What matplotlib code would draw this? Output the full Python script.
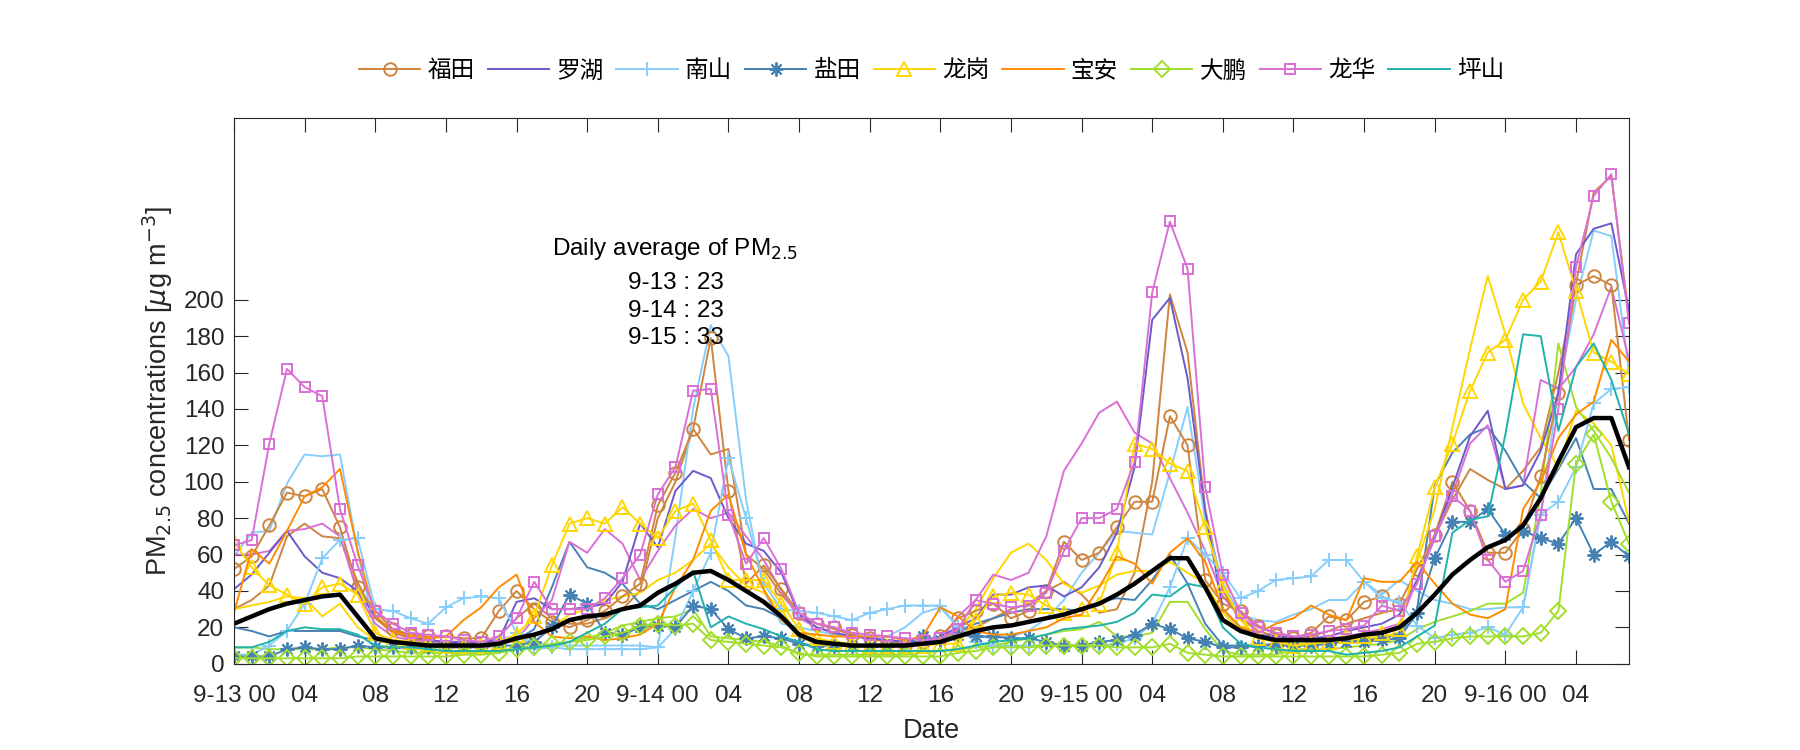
import matplotlib
matplotlib.use("Agg")
import matplotlib.pyplot as plt
import numpy as np

plt.rcParams['font.family'] = ['Liberation Sans', 'Noto Sans CJK SC', 'DejaVu Sans']
plt.rcParams['mathtext.fontset'] = 'dejavusans'

hours = np.arange(80)

# hourly PM2.5, 9-13 00 .. 9-16 07
futian = [52, 59, 76, 94, 92, 96, 75, 42, 29, 19,
          16, 15, 15, 14, 14, 29, 40, 30, 23, 20,
          24, 29, 37, 44, 87, 105, 129, 179, 95, 44,
          54, 41, 28, 22, 20, 16, 14, 12, 10, 12,
          15, 25, 29, 33, 25, 29, 40, 67, 57, 61,
          75, 89, 89, 136, 120, 46, 33, 29, 21, 16,
          14, 17, 26, 24, 34, 37, 33, 52, 71, 100,
          84, 61, 61, 74, 103, 149, 208, 213, 208, 123]
futian_2 = [30, 35, 43, 70, 77, 70, 69, 45, 25, 17,
            14, 13, 12, 12, 12, 15, 25, 33, 25, 22,
            22, 25, 30, 40, 80, 100, 129, 115, 118, 60,
            52, 38, 27, 22, 19, 16, 14, 12, 11, 12,
            15, 18, 20, 25, 30, 33, 40, 45, 38, 28,
            30, 50, 100, 203, 171, 85, 40, 25, 18, 15,
            14, 15, 18, 22, 25, 28, 30, 45, 70, 90,
            107, 101, 96, 106, 119, 160, 209, 259, 268, 190]
luohu = [41, 49, 61, 73, 59, 50, 47, 40, 26, 18,
         15, 13, 12, 12, 12, 13, 34, 36, 30, 30,
         31, 33, 45, 77, 64, 95, 106, 102, 80, 66,
         62, 50, 27, 20, 17, 15, 14, 13, 12, 12,
         15, 20, 25, 38, 38, 42, 43, 37, 42, 53,
         72, 108, 189, 201, 157, 84, 30, 20, 16, 15,
         14, 14, 15, 18, 20, 22, 27, 46, 69, 97,
         125, 139, 96, 98, 117, 149, 225, 239, 242, 194]
nanshan = [5, 5, 10, 18, 33, 58, 68, 69, 30, 29,
           25, 22, 31, 36, 37, 36, 17, 8, 9, 8,
           8, 8, 8, 8, 9, 19, 40, 61, 113, 80,
           44, 30, 29, 28, 26, 24, 28, 30, 32, 32,
           32, 20, 12, 10, 10, 10, 10, 10, 10, 10,
           11, 14, 22, 42, 69, 60, 50, 36, 40, 46,
           47, 48, 57, 57, 45, 36, 34, 21, 14, 16,
           17, 20, 16, 31, 82, 89, 108, 143, 151, 152]
nanshan_2 = [59, 72, 73, 99, 115, 114, 115, 62, 17, 12,
             10, 10, 10, 10, 12, 14, 15, 12, 10, 10,
             10, 10, 10, 10, 9, 70, 140, 186, 169, 90,
             40, 22, 20, 18, 16, 15, 15, 15, 20, 28,
             31, 20, 15, 14, 15, 18, 25, 35, 50, 61,
             73, 72, 71, 105, 141, 79, 44, 27, 24, 23,
             27, 30, 35, 35, 45, 38, 46, 40, 35, 33,
             30, 30, 31, 31, 83, 150, 200, 238, 235, 160]
yantian = [4, 4, 4, 8, 9, 8, 8, 10, 9, 9,
           9, 9, 9, 9, 9, 10, 10, 12, 20, 38,
           33, 17, 16, 20, 21, 20, 32, 30, 19, 14,
           15, 14, 11, 10, 10, 10, 10, 10, 11, 15,
           13, 16, 15, 15, 14, 14, 12, 10, 10, 12,
           13, 16, 22, 19, 14, 12, 9, 9, 10, 10,
           10, 10, 11, 12, 12, 13, 14, 28, 58, 78,
           78, 85, 71, 73, 69, 66, 80, 60, 67, 59]
yantian_2 = [20, 18, 15, 18, 18, 18, 18, 15, 13, 11,
             11, 11, 11, 11, 11, 12, 13, 19, 42, 67,
             53, 50, 44, 33, 30, 35, 40, 45, 40, 32,
             30, 25, 15, 11, 10, 10, 10, 10, 10, 11,
             14, 18, 22, 25, 28, 30, 30, 30, 29, 34,
             36, 35, 46, 60, 44, 22, 10, 10, 10, 11,
             11, 11, 12, 12, 13, 14, 16, 30, 98, 116,
             126, 130, 117, 100, 91, 107, 124, 96, 96, 77]
longgang = [67, 53, 43, 38, 33, 42, 44, 38, 17, 13,
            12, 11, 10, 10, 10, 12, 16, 26, 54, 77,
            80, 77, 86, 77, 69, 84, 88, 68, 46, 46,
            46, 33, 19, 14, 12, 11, 10, 10, 10, 10,
            11, 11, 24, 37, 39, 38, 32, 28, 30, 33,
            61, 121, 118, 110, 106, 75, 43, 24, 14, 12,
            10, 11, 12, 15, 15, 17, 19, 59, 97, 121,
            150, 171, 178, 200, 210, 237, 205, 171, 166, 159]
longgang_2 = [30, 32, 34, 37, 36, 26, 33, 20, 13, 11,
              10, 10, 10, 10, 10, 11, 13, 15, 20, 27,
              30, 35, 37, 39, 46, 50, 57, 66, 53, 43,
              39, 30, 14, 12, 11, 10, 10, 10, 10, 11,
              12, 18, 30, 47, 61, 66, 57, 44, 39, 43,
              49, 51, 51, 56, 50, 44, 28, 18, 14, 12,
              11, 11, 12, 13, 14, 15, 17, 56, 85, 130,
              173, 213, 181, 143, 124, 108, 139, 132, 120, 78]
baoan = [28, 63, 55, 73, 92, 97, 107, 62, 26, 18,
         15, 14, 15, 24, 31, 42, 49, 23, 15, 14,
         15, 13, 14, 16, 22, 42, 57, 84, 93, 60,
         41, 24, 17, 16, 15, 15, 15, 15, 13, 15,
         31, 26, 18, 16, 16, 18, 20, 25, 27, 42,
         59, 55, 44, 61, 69, 56, 30, 20, 17, 22,
         25, 32, 27, 24, 47, 45, 45, 56, 44, 33,
         27, 25, 30, 85, 100, 124, 137, 144, 178, 166]
dapeng = [3, 3, 3, 3, 3, 3, 3, 4, 4, 4,
          4, 4, 4, 5, 5, 6, 8, 9, 11, 12,
          13, 15, 17, 21, 22, 21, 22, 13, 12, 11,
          10, 9, 6, 4, 4, 4, 4, 4, 4, 4,
          4, 6, 7, 9, 9, 9, 10, 10, 10, 10,
          9, 9, 9, 11, 6, 5, 4, 4, 4, 4,
          4, 4, 4, 4, 4, 5, 6, 11, 12, 14,
          15, 15, 15, 15, 17, 29, 110, 126, 89, 66]
dapeng_2 = [9, 9, 8, 8, 8, 8, 9, 9, 8, 7,
            6, 6, 6, 6, 6, 7, 8, 9, 10, 12,
            14, 17, 21, 23, 25, 26, 30, 15, 14, 13,
            12, 10, 5, 5, 5, 5, 5, 5, 5, 6,
            7, 8, 9, 10, 12, 14, 16, 18, 19, 23,
            15, 15, 17, 34, 34, 19, 7, 5, 5, 5,
            8, 8, 8, 9, 10, 11, 13, 19, 23, 26,
            29, 33, 33, 39, 93, 176, 141, 128, 113, 94]
longhua = [65, 68, 121, 162, 152, 147, 85, 54, 29, 22,
           17, 16, 15, 13, 12, 15, 25, 45, 30, 30,
           30, 36, 47, 60, 93, 108, 150, 151, 82, 55,
           69, 52, 28, 22, 20, 17, 16, 15, 14, 13,
           14, 19, 35, 33, 31, 32, 39, 62, 80, 80,
           85, 111, 204, 243, 217, 97, 49, 28, 20, 17,
           15, 16, 18, 19, 21, 32, 29, 44, 70, 92,
           84, 57, 45, 51, 82, 140, 218, 257, 269, 187]
longhua_2 = [60, 60, 62, 73, 74, 77, 70, 39, 22, 15,
             13, 12, 12, 12, 12, 12, 13, 25, 35, 67,
             61, 74, 66, 46, 62, 76, 85, 80, 83, 70,
             57, 40, 25, 20, 17, 15, 14, 13, 12, 12,
             13, 26, 35, 49, 46, 50, 70, 106, 121, 138,
             144, 127, 121, 102, 83, 62, 37, 25, 20, 17,
             15, 14, 14, 15, 17, 19, 22, 46, 71, 93,
             121, 131, 96, 98, 156, 151, 163, 181, 207, 167]
pingshan = [9, 9, 12, 18, 20, 19, 19, 16, 10, 9,
            9, 8, 7, 7, 7, 7, 8, 9, 10, 12,
            17, 22, 30, 31, 32, 42, 51, 20, 26, 22,
            19, 15, 12, 8, 7, 7, 7, 7, 7, 7,
            7, 8, 10, 12, 13, 14, 16, 19, 20, 21,
            23, 28, 38, 37, 44, 42, 20, 11, 9, 8,
            7, 7, 7, 5, 6, 7, 9, 15, 21, 72,
            79, 81, 126, 181, 180, 128, 163, 176, 156, 126]
average = [22, 26, 30, 33, 35, 37, 38, 26, 14, 12,
           11, 10, 10, 10, 10, 11, 14, 16, 19, 24,
           26, 27, 30, 32, 39, 44, 50, 51, 46, 40,
           34, 26, 16, 12, 11, 10, 10, 10, 10, 11,
           12, 15, 18, 20, 21, 23, 25, 27, 30, 33,
           38, 44, 51, 58, 58, 42, 24, 18, 15, 13,
           13, 13, 13, 14, 16, 17, 20, 28, 38, 49,
           57, 64, 68, 76, 91, 111, 130, 135, 135, 108]

tick_hours = list(range(0, 80, 4))
tick_labels = ['9-13 00', '04', '08', '12', '16', '20',
               '9-14 00', '04', '08', '12', '16', '20',
               '9-15 00', '04', '08', '12', '16', '20',
               '9-16 00', '04']
daily_avg = [('9-13', 23), ('9-14', 23), ('9-15', 33)]

# (name, main series, marker, size, colour, second station)
districts = [
    ('福田', futian, 'o', 9, '#CD853F', futian_2),
    ('罗湖', luohu, None, 0, '#6A5ACD', None),
    ('南山', nanshan, '+', 10, '#87CEFA', nanshan_2),
    ('盐田', yantian, (8, 2, 0), 10, '#4682B4', yantian_2),
    ('龙岗', longgang, '^', 10, '#FFD700', longgang_2),
    ('宝安', baoan, None, 0, '#FF8C00', None),
    ('大鹏', dapeng, 'D', 8, '#A2DE2C', dapeng_2),
    ('龙华', longhua, 's', 6.5, '#DA70D6', longhua_2),
    ('坪山', pingshan, None, 0, '#20B2AA', None),
]

fig = plt.figure(figsize=(18, 7.5), dpi=100)
ax = fig.add_axes([0.13, 0.115, 0.775, 0.728])

for name, s, m, ms, c, s2 in districts:
    if s2 is not None:
        ax.plot(hours, s2, color=c, lw=1.4)
for name, s, m, ms, c, s2 in districts:
    ax.plot(hours, s, color=c, lw=1.4, marker=m, ms=ms, mfc='none',
            mec=c, mew=1.4, label=name)
ax.plot(hours, average, color='black', lw=3.2)

ax.set_xlim(0, 79)
ax.set_ylim(0, 300)
ax.set_yticks(range(0, 201, 20))
ax.set_xticks(tick_hours)
ax.set_xticklabels(tick_labels)
ax.tick_params(direction='in', length=10, width=0.8, top=True, right=True,
               labelsize=17.5, colors='#262626', pad=7)
ax.tick_params(axis='x', pad=15)
for sp in ax.spines.values():
    sp.set_color('#262626')
    sp.set_linewidth(0.8)

ax.set_xlabel('Date', fontsize=19.5, color='#262626', labelpad=8)
ax.set_ylabel('PM$_{2.5}$ concentrations [$\\mu$g m$^{-3}$]', fontsize=19.5,
              color='#262626', labelpad=6)

ax.text(25, 228, 'Daily average of PM$_{2.5}$', ha='center', va='center',
        fontsize=17.5)
for i, (d, v) in enumerate(daily_avg):
    ax.text(25, 209 - 15 * i, f'{d} : {v}', ha='center', va='center',
            fontsize=17.5)

leg = ax.legend(loc='center', bbox_to_anchor=(0.5, 1.085), ncol=9,
                frameon=False, fontsize=17, handlelength=2.6,
                columnspacing=0.55, handletextpad=0.3)

fig.savefig('out.png', dpi=100)
